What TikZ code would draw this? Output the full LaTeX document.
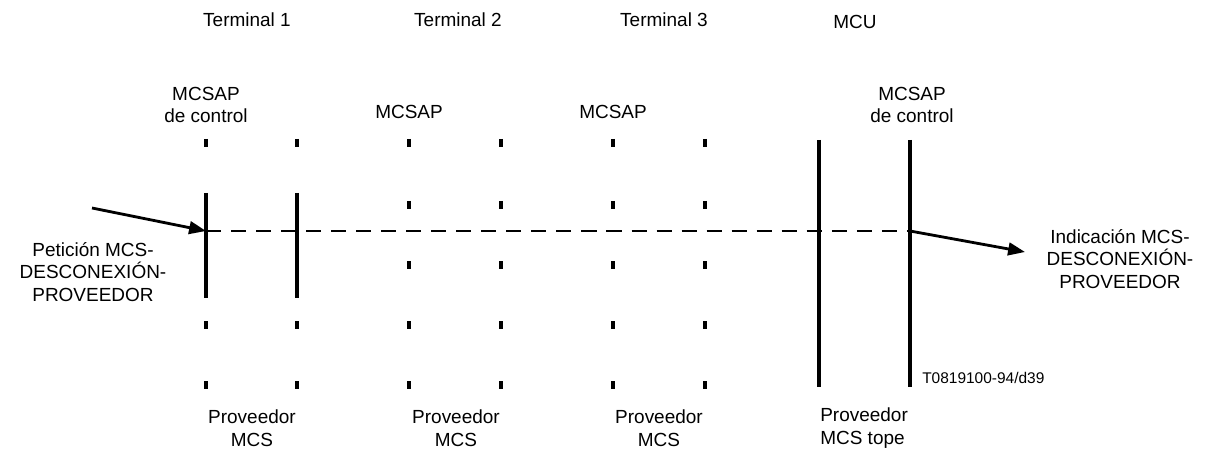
\documentclass[tikz,border=0pt]{standalone}
\usepackage{fontspec}
\setmainfont{Liberation Sans}
\usetikzlibrary{arrows.meta}

\begin{document}
\begin{tikzpicture}[x=0.025cm, y=-0.025cm,
    lbl/.style={font=\fontsize{13.5}{16}\selectfont, align=center, inner sep=0pt},
    lifeline/.style={line width=2.2pt},
    tickmark/.style={line width=2.2pt},
    msg/.style={line width=2pt, -{Triangle[length=12pt,width=9pt]}},
    flow/.style={line width=1.4pt, dash pattern=on 10.7pt off 7.1pt}]
    \useasboundingbox (0,0) rectangle (1216,459);

    % Entity headings
    \node[lbl] (term1) at (247,20) {Terminal 1};
    \node[lbl] (term2) at (458,20) {Terminal 2};
    \node[lbl] (term3) at (664,20) {Terminal 3};
    \node[lbl] (mcu) at (855,22) {MCU};

    % Service access points
    \node[lbl] (sap1) at (206,105) {MCSAP\\de control};
    \node[lbl] (sap2) at (409,112) {MCSAP};
    \node[lbl] (sap3) at (613,112) {MCSAP};
    \node[lbl] (sap4) at (912,105) {MCSAP\\de control};

    % Providers
    \node[lbl] (prov1) at (252,428) {Proveedor\\MCS};
    \node[lbl] (prov2) at (456,428) {Proveedor\\MCS};
    \node[lbl] (prov3) at (659,428) {Proveedor\\MCS};
    \node[lbl, align=left, anchor=west] (prov4) at (820,428) {Proveedor\\MCS tope};

    % Tick marks
    \foreach \x in {206,297} {
        \foreach \y in {143,325,385}
            \draw[tickmark] (\x,\y-4) -- (\x,\y+4);
    }
    \foreach \x in {409,501,613,705} {
        \foreach \y in {143,205,265,325,385}
            \draw[tickmark] (\x,\y-4) -- (\x,\y+4);
    }

    % Solid lines
    \draw[lifeline] (206,193) -- (206,298);
    \draw[lifeline] (297,193) -- (297,298);
    \draw[lifeline] (819,140) -- (819,387);
    \draw[lifeline] (910,140) -- (910,387);

    % Primitives
    \coordinate (reqstart) at (92,208);
    \coordinate (join1) at (206,231);
    \coordinate (join4) at (910,231);
    \coordinate (indend) at (1025,252);
    \draw[msg] (reqstart) -- (join1);
    \draw[flow] (join1) -- (join4);
    \draw[msg] (join4) -- (indend);

    \node[lbl] (req) at (93,272) {Petición MCS-\\DESCONEXIÓN-\\PROVEEDOR};
    \node[lbl] (ind) at (1120,259) {Indicación MCS-\\DESCONEXIÓN-\\PROVEEDOR};

    \node[font=\fontsize{11}{12}\selectfont, anchor=west, inner sep=0pt] (code) at (922,378) {T0819100-94/d39};
\end{tikzpicture}
\end{document}
